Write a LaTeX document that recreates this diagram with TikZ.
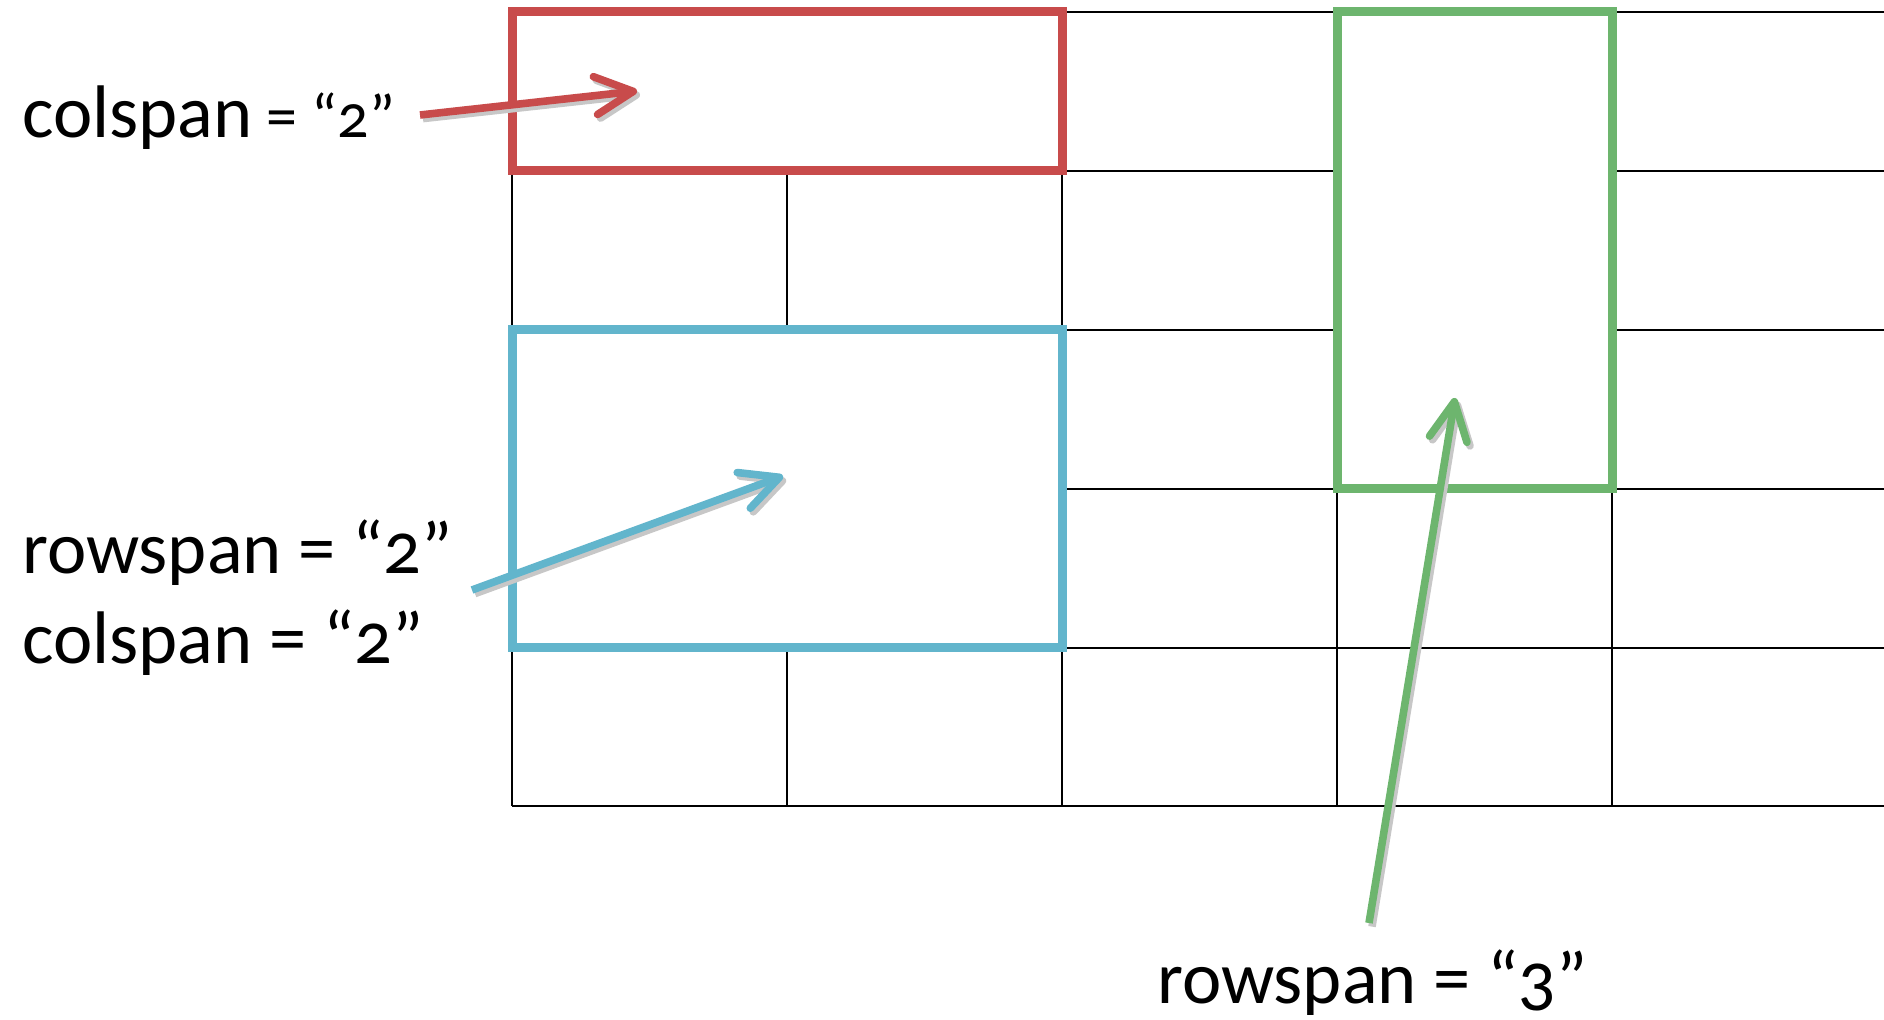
\documentclass[tikz,border=0pt]{standalone}
\usepackage{fontspec}
\setmainfont{Carlito}[Numbers=OldStyle]
\usetikzlibrary{arrows.meta}
\definecolor{spanred}{HTML}{C84B4B}
\definecolor{spanblue}{HTML}{62B5CC}
\definecolor{spangreen}{HTML}{6DB56E}

\begin{document}
\begin{tikzpicture}[x=0.5pt, y=-0.5pt,
        cell/.style={line width=1pt, black},
        spanbox/.style={line width=4.5pt, fill=white},
        pointer/.style={line width=3.8pt, -{Straight Barb[length=19pt, width=19pt, round]}},
        pointershadow/.style={pointer, black!22, transform canvas={shift={(1.5pt,-1.8pt)}}},
        spanlabel/.style={anchor=base west, inner sep=0pt, font=\fontsize{37.25}{45}\selectfont}]
        \useasboundingbox (0,0) rectangle (1884,1020);

        \draw[cell] (512,12) -- (1884,12);
        \draw[cell] (512,171) -- (1884,171);
        \draw[cell] (512,330) -- (1884,330);
        \draw[cell] (512,489) -- (1884,489);
        \draw[cell] (512,648) -- (1884,648);
        \draw[cell] (512,806) -- (1884,806);
        \draw[cell] (512,12) -- (512,806);
        \draw[cell] (787,12) -- (787,806);
        \draw[cell] (1062,12) -- (1062,806);
        \draw[cell] (1337,12) -- (1337,806);
        \draw[cell] (1612,12) -- (1612,806);

        \draw[spanbox, draw=spanred] (512,12) rectangle (1062,171);
        \draw[spanbox, draw=spanblue] (512,330) rectangle (1062,648);
        \draw[spanbox, draw=spangreen] (1337,12) rectangle (1612,489);

        \node[spanlabel] (colspan) at (22,138) {colspan{\fontsize{31}{37}\selectfont{} = “2”}};
        \node[spanlabel] (rowspantwo) at (22,574) {rowspan = “2”};
        \node[spanlabel] (colspantwo) at (22,664) {colspan = “2”};
        \node[spanlabel] (rowspanthree) at (1157,1003) {rowspan = “3”};

        \coordinate (redtail) at (420,115);
        \coordinate (redtip) at (637,91);
        \coordinate (bluetail) at (472,590);
        \coordinate (bluetip) at (783,476);
        \coordinate (greentail) at (1369,923);
        \coordinate (greentip) at (1455,398);

        \draw[pointershadow] (redtail) -- (redtip);
        \draw[pointershadow] (bluetail) -- (bluetip);
        \draw[pointershadow] (greentail) -- (greentip);
        \draw[pointer, spanred] (redtail) -- (redtip);
        \draw[pointer, spanblue] (bluetail) -- (bluetip);
        \draw[pointer, spangreen] (greentail) -- (greentip);
    \end{tikzpicture}
\end{document}
